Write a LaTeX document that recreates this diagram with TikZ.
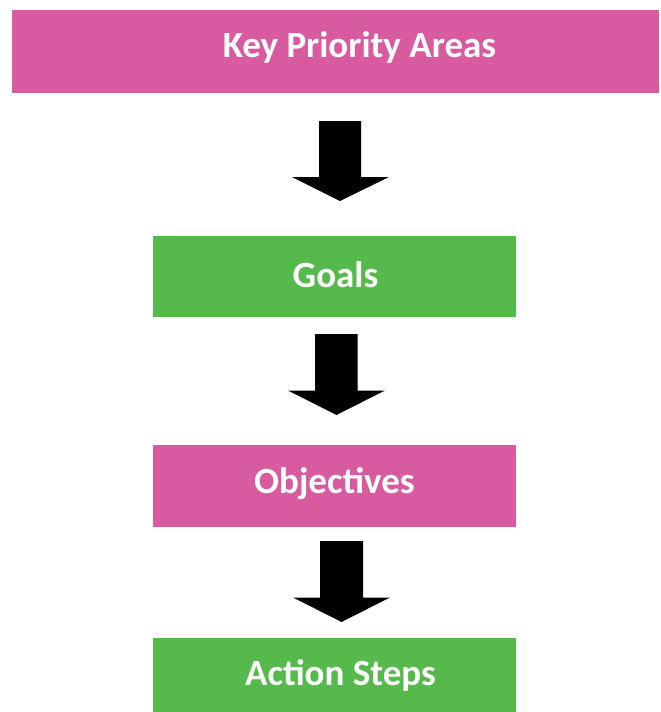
\documentclass[tikz,border=0pt]{standalone}
\usepackage{fontspec}
\setmainfont{Carlito}
\definecolor{kpink}{HTML}{D75B9E}
\definecolor{kgreen}{HTML}{56B94C}
\tikzset{
  boxpink/.style={fill=kpink, draw=none},
  boxgreen/.style={fill=kgreen, draw=none},
  lbl/.style={text=white, font=\fontsize{37}{41}\selectfont\bfseries, anchor=base, inner sep=0pt},
  blockarrow/.style={fill=black, draw=none}
}
\begin{document}
\begin{tikzpicture}[x=1pt,y=-1pt]
\useasboundingbox (0,0) rectangle (661,712);
% boxes
\fill[boxpink] (12,10) rectangle (659,93);
\node[lbl] (kpa) at (359.5,57) {Key Priority Areas};
\fill[boxgreen] (153,236) rectangle (515.5,317);
\node[lbl] (goals) at (335.5,287) {Goals};
\fill[boxpink] (153,445) rectangle (515.5,526.5);
\node[lbl] (obj) at (334.5,493) {Objectives};
\fill[boxgreen] (153,638) rectangle (515.5,712);
\node[lbl] (act) at (340.5,685) {Action Steps};
% block arrows
\fill[blockarrow] (319,121) -- (361,121) -- (361,177) -- (389,177) -- (340,201) -- (292,177) -- (319,177) -- cycle;
\fill[blockarrow] (315,334) -- (357.5,334) -- (357.5,390.5) -- (385,390.5) -- (336.5,415) -- (288,390.5) -- (315,390.5) -- cycle;
\fill[blockarrow] (320,541) -- (363,541) -- (363,597.5) -- (390,597.5) -- (341.5,622) -- (293,597.5) -- (320,597.5) -- cycle;
\end{tikzpicture}
\end{document}
